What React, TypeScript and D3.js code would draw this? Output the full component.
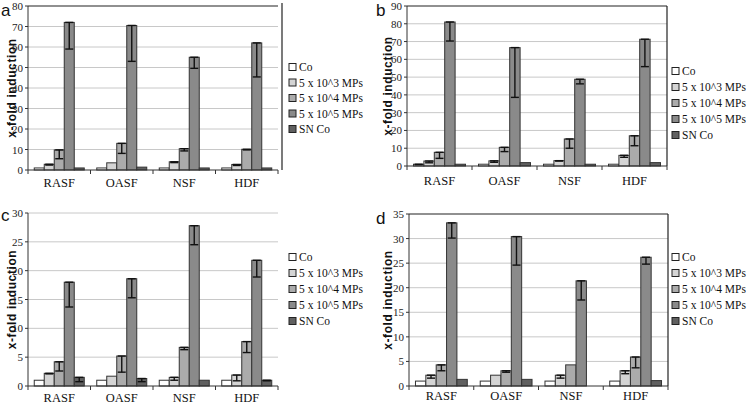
import React from "react";
import * as d3 from "d3";

const categories = ["RASF", "OASF", "NSF", "HDF"];
const seriesNames = ["Co", "5 x 10^3 MPs", "5 x 10^4 MPs", "5 x 10^5 MPs", "SN Co"];
const seriesColors = ["#ffffff", "#d4d4d4", "#ababab", "#8a8a8a", "#606060"];

// rows = categories, cols = series
const valuesA = [
  [1.0, 2.8, 9.8, 72, 1.0],
  [1.0, 3.5, 13, 70.5, 1.4],
  [1.0, 4.0, 10.4, 55, 1.0],
  [1.0, 2.7, 10.1, 62, 1.0],
];
const errorsA = [
  [0, 0.4, 4.3, 13, 0],
  [0, 0, 4.9, 17.5, 0],
  [0, 0.4, 1.1, 5.4, 0],
  [0, 0.5, 0.3, 16.6, 0],
];
const valuesB = [
  [1.0, 2.8, 7.7, 81, 1.0],
  [1.0, 2.9, 10.5, 66.6, 1.9],
  [1.0, 3.0, 15.2, 48.8, 1.0],
  [1.0, 6.0, 17, 71.3, 1.9],
];
const errorsB = [
  [0.3, 1.0, 3.4, 10.7, 0],
  [0, 0.8, 2.4, 28, 0],
  [0, 0.2, 5.2, 2.6, 0],
  [0, 1.1, 5.6, 15.4, 0],
];
const valuesC = [
  [1.0, 2.2, 4.2, 18.0, 1.5],
  [1.0, 1.7, 5.2, 18.6, 1.3],
  [1.0, 1.5, 6.7, 27.8, 1.0],
  [1.0, 1.9, 7.7, 21.8, 1.0],
];
const errorsC = [
  [0, 0.1, 1.6, 4.3, 0.75],
  [0, 0, 2.8, 3.3, 0.55],
  [0, 0.5, 0.4, 3.3, 0],
  [0, 1.0, 1.9, 2.9, 0.1],
];
const valuesD = [
  [1.0, 2.2, 4.3, 33.2, 1.35],
  [1.0, 2.2, 3.1, 30.4, 1.35],
  [1.0, 2.2, 4.3, 21.4, 0],
  [1.0, 3.1, 5.9, 26.2, 1.1],
];
const errorsD = [
  [0, 0.6, 1.2, 3.1, 0],
  [0, 0, 0.3, 5.8, 0],
  [0, 0.6, 0, 3.9, 0],
  [0, 0.6, 2.2, 1.4, 0],
];
const ticksA = [0, 10, 20, 30, 40, 50, 60, 70, 80];
const ticksB = [0, 10, 20, 30, 40, 50, 60, 70, 80, 90];
const ticksC = [0, 5, 10, 15, 20, 25, 30];
const ticksD = [0, 5, 10, 15, 20, 25, 30, 35];

const yTitle = "x-fold induction";

type PanelProps = {
  letter: string;
  letterX: number;
  letterY: number;
  left: number;
  right: number;
  top: number;
  bottom: number;
  ticks: number[];
  values: number[][];
  errors: number[][];
  legendX: number;
  legendY: number;
  legendDy: number;
  titleX: number;
  catY: number;
  frame: "a" | "box" | "none";
};

function Panel(p: PanelProps) {
  const yMax = p.ticks[p.ticks.length - 1];
  const y = d3.scaleLinear().domain([0, yMax]).range([p.bottom, p.top]);
  const x0 = d3
    .scaleBand<string>()
    .domain(categories)
    .range([p.left, p.right])
    .paddingInner(0.2)
    .paddingOuter(0.1);
  const x1 = d3.scaleBand<string>().domain(seriesNames).range([0, x0.bandwidth()]);
  const step = x0.step();
  const boundaries = d3.range(categories.length + 1).map((i) => p.left + i * step);
  const serif = "'Liberation Serif', 'Times New Roman', serif";
  const sans = "'Liberation Sans', Arial, sans-serif";
  return (
    <g>
      {p.ticks.map((t) => (
        <g key={"g" + t}>
          {t > 0 && t < yMax && (
            <line x1={p.left} x2={p.right} y1={y(t)} y2={y(t)} stroke="#c8c8c8" strokeWidth={1} />
          )}
          {t === yMax && p.frame === "none" && (
            <line x1={p.left} x2={p.right} y1={y(t)} y2={y(t)} stroke="#c8c8c8" strokeWidth={1} />
          )}
          <line x1={p.left - 3} x2={p.left} y1={y(t)} y2={y(t)} stroke="#333" strokeWidth={1} />
          <text
            x={p.left - 5}
            y={y(t) + 4}
            textAnchor="end"
            fontFamily={serif}
            fontSize={11}
            fill="#222"
          >
            {t}
          </text>
        </g>
      ))}
      {categories.map((c, ci) =>
        seriesNames.map((s, si) => {
          const v = p.values[ci][si];
          if (!v) return null;
          const bx = (x0(c) as number) + (x1(s) as number);
          const bw = x1.bandwidth();
          return (
            <rect
              key={c + s}
              x={bx}
              y={y(v)}
              width={bw}
              height={p.bottom - y(v)}
              fill={seriesColors[si]}
              stroke="#333"
              strokeWidth={1}
            />
          );
        })
      )}
      {categories.map((c, ci) =>
        seriesNames.map((s, si) => {
          const v = p.values[ci][si];
          const e = p.errors[ci][si];
          if (!v || !e) return null;
          const cx = (x0(c) as number) + (x1(s) as number) + x1.bandwidth() / 2;
          const y1 = y(v);
          const y2 = y(v - e);
          return (
            <g key={"e" + c + s} stroke="#111" strokeWidth={1.4}>
              <line x1={cx} x2={cx} y1={y1} y2={y2} />
              <line x1={cx - 4} x2={cx + 4} y1={y2} y2={y2} />
              <line x1={cx - 4} x2={cx + 4} y1={y1} y2={y1} />
            </g>
          );
        })
      )}
      {/* axes */}
      <line x1={p.left} x2={p.left} y1={p.top} y2={p.bottom} stroke="#333" strokeWidth={1} />
      <line x1={p.left} x2={p.right} y1={p.bottom} y2={p.bottom} stroke="#333" strokeWidth={1} />
      {boundaries.map((bx, i) => (
        <line key={"b" + i} x1={bx} x2={bx} y1={p.bottom} y2={p.bottom + 4} stroke="#333" strokeWidth={1} />
      ))}
      {p.frame === "box" && (
        <g stroke="#222" strokeWidth={1.2} fill="none">
          <line x1={p.left} x2={p.right} y1={p.top} y2={p.top} />
          <line x1={p.right} x2={p.right} y1={p.top} y2={p.bottom} />
        </g>
      )}
      {p.frame === "a" && (
        <g stroke="#222" strokeWidth={1.2} fill="none">
          <line x1={p.left} x2={p.right} y1={p.top} y2={p.top} />
          <line x1={p.right + 4} x2={p.right + 4} y1={p.top - 3} y2={p.bottom} />
        </g>
      )}
      {categories.map((c) => (
        <text
          key={"c" + c}
          x={(x0(c) as number) + x0.bandwidth() / 2}
          y={p.catY}
          textAnchor="middle"
          fontFamily={serif}
          fontSize={12.5}
          fill="#111"
        >
          {c}
        </text>
      ))}
      <text
        transform={`translate(${p.titleX},${(p.top + p.bottom) / 2}) rotate(-90)`}
        textAnchor="middle"
        dy="0.35em"
        fontFamily={sans}
        fontWeight="bold"
        fontSize={12}
        letterSpacing={0.6}
        fill="#111"
      >
        {yTitle}
      </text>
      <text x={p.letterX} y={p.letterY} fontFamily={sans} fontSize={17} fill="#111">
        {p.letter}
      </text>
      {seriesNames.map((s, si) => (
        <g key={"l" + s}>
          <rect
            x={p.legendX}
            y={p.legendY + si * p.legendDy - 3.5}
            width={7}
            height={7}
            fill={seriesColors[si]}
            stroke="#222"
            strokeWidth={1}
          />
          <text
            x={p.legendX + 10}
            y={p.legendY + si * p.legendDy + 4}
            fontFamily={serif}
            fontSize={11.5}
            fill="#111"
          >
            {s}
          </text>
        </g>
      ))}
    </g>
  );
}

export default function App() {
  return (
    <svg
      width={751}
      height={405}
      style={{ position: "absolute", left: 0, top: 0, background: "#fff" }}
    >
      <rect x={0} y={0} width={751} height={405} fill="#fff" />
      <Panel
        letter="a"
        letterX={1}
        letterY={16}
        left={28}
        right={278}
        top={6}
        bottom={170}
        ticks={ticksA}
        values={valuesA}
        errors={errorsA}
        legendX={289}
        legendY={67}
        legendDy={15.5}
        titleX={12}
        catY={187}
        frame="a"
      />
      <Panel
        letter="b"
        letterX={376}
        letterY={16}
        left={407}
        right={667}
        top={6}
        bottom={166}
        ticks={ticksB}
        values={valuesB}
        errors={errorsB}
        legendX={672}
        legendY={71}
        legendDy={16}
        titleX={388}
        catY={185}
        frame="box"
      />
      <Panel
        letter="c"
        letterX={1}
        letterY={221}
        left={28}
        right={278}
        top={213}
        bottom={386}
        ticks={ticksC}
        values={valuesC}
        errors={errorsC}
        legendX={289}
        legendY={257}
        legendDy={16}
        titleX={12}
        catY={402}
        frame="none"
      />
      <Panel
        letter="d"
        letterX={376}
        letterY={224}
        left={409}
        right={668}
        top={214}
        bottom={386}
        ticks={ticksD}
        values={valuesD}
        errors={errorsD}
        legendX={672}
        legendY={257}
        legendDy={16}
        titleX={388}
        catY={400}
        frame="box"
      />
    </svg>
  );
}
